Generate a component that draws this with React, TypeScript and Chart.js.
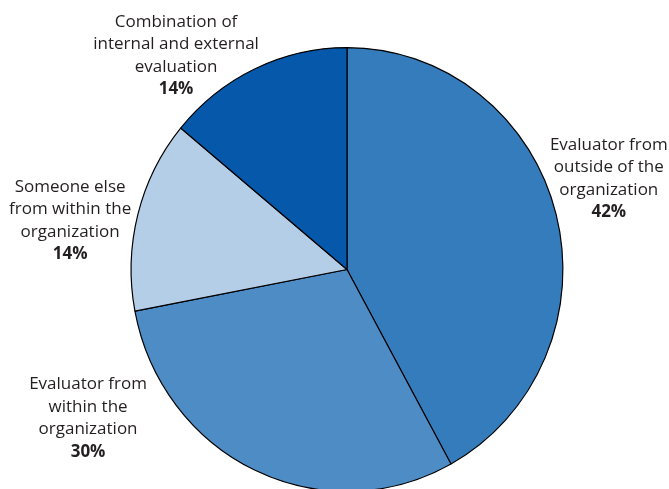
import React, { useEffect, useRef } from "react";
import { Chart, registerables } from "chart.js";

Chart.register(...registerables);

const categories: string[][] = [
  ["Evaluator from", "outside of the", "organization"],
  ["Evaluator from", "within the", "organization"],
  ["Someone else", "from within the", "organization"],
  ["Combination of", "internal and external", "evaluation"],
];
const values: number[] = [42, 30, 14, 14];
const colors: string[] = ["#357cbd", "#4e8cc5", "#b5cee7", "#0659aa"];

// label anchor offsets relative to pie centre, in units of the pie radius
const labelOffsetX: number[] = [1.196, -1.183, -1.265, -0.781];
const labelOffsetY: number[] = [-0.416, 0.68, -0.224, -0.977];

const FONT = '"Open Sans", "Noto Sans", sans-serif';
const LINE_H = 22.5;
const SCALE_X = 216 / 219;
const SCALE_Y = 222 / 219;

const ellipsePlugin = {
  id: "ellipse",
  beforeDatasetsDraw(chart: any) {
    const ctx = chart.ctx as CanvasRenderingContext2D;
    const arc = chart.getDatasetMeta(0).data[0];
    ctx.save();
    ctx.translate(arc.x, arc.y);
    ctx.scale(SCALE_X, SCALE_Y);
    ctx.translate(-arc.x, -arc.y);
  },
  afterDatasetsDraw(chart: any) {
    chart.ctx.restore();
  },
};

const labelPlugin = {
  id: "outerLabels",
  afterDatasetsDraw(chart: any) {
    const ctx = chart.ctx as CanvasRenderingContext2D;
    const meta = chart.getDatasetMeta(0);
    ctx.save();
    ctx.fillStyle = "#231f20";
    ctx.textAlign = "center";
    ctx.textBaseline = "middle";
    meta.data.forEach((arc: any, i: number) => {
      const r = arc.outerRadius;
      const cx = arc.x + labelOffsetX[i] * r;
      const cy = arc.y + labelOffsetY[i] * r;
      const lines = [...categories[i], values[i] + "%"];
      const y0 = cy - ((lines.length - 1) * LINE_H) / 2;
      lines.forEach((line, j) => {
        const bold = j === lines.length - 1;
        ctx.font = `${bold ? "bold " : ""}17px ${FONT}`;
        ctx.fillText(line, cx, y0 + j * LINE_H);
      });
    });
    ctx.restore();
  },
};

export default function App() {
  const ref = useRef<HTMLCanvasElement>(null);
  useEffect(() => {
    if (!ref.current) return;
    const chart = new Chart(ref.current, {
      type: "pie",
      data: {
        labels: categories.map((c) => c.join(" ")),
        datasets: [
          {
            data: values,
            backgroundColor: colors,
            borderColor: "#000000",
            borderWidth: 1.2,
          },
        ],
      },
      options: {
        responsive: true,
        maintainAspectRatio: false,
        animation: false,
        layout: { padding: { left: 25, right: 0, top: 50, bottom: 0 } },
        plugins: {
          legend: { display: false },
          tooltip: { enabled: false },
        },
      },
      plugins: [ellipsePlugin, labelPlugin],
    });
    return () => chart.destroy();
  }, []);
  return (
    <div style={{ position: "fixed", left: 0, top: 0, width: 669, height: 489, background: "#fff" }}>
      <canvas ref={ref} />
    </div>
  );
}
